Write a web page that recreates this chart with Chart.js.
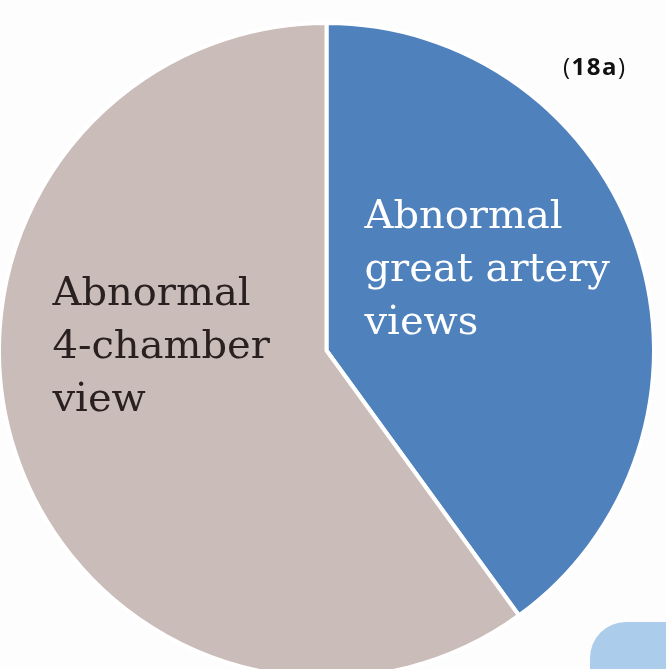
<!DOCTYPE html>
<html>
<head>
<meta charset="utf-8">
<script src="https://cdn.jsdelivr.net/npm/chart.js@4"></script>
<style>
    html, body { margin: 0; padding: 0; background: #fdfdfd; }
    body { width: 666px; height: 669px; overflow: hidden; position: relative; }
    #wrap { position: absolute; left: -3px; top: 21px; width: 659px; height: 659px; }
    #tag {
        position: absolute; left: 563px; top: 49px;
        font-family: "Open Sans", Arial, sans-serif; font-size: 24px; color: #111;
        letter-spacing: 1.5px;
    }
    #tag b { font-weight: bold; }
    #corner {
        position: absolute; left: 590px; top: 622px; width: 120px; height: 100px;
        background: #abcdeb; border-radius: 36px;
    }
</style>
</head>
<body>
<div id="wrap"><canvas id="pieChart"></canvas></div>
<div id="tag">(<b>18a</b>)</div>
<div id="corner"></div>
<script>
// slice data, clockwise from 12 o'clock
const categories = [
    ["Abnormal", "great artery", "views"],
    ["Abnormal", "4-chamber", "view"]
];
const shares = [40, 60];
const sliceColors = ["#4f81bd", "#c9bcb9"];
const textColors = ["#ffffff", "#2a2020"];

function drawLabels(chart) {
    /**
     * writes the multi-line slice labels, placed from the pie centre
     */
    const arc = chart.getDatasetMeta(0).data[0];
    const cx = arc.x, cy = arc.y;
    const spots = [[38, -123], [-274, -46]];
    const ctx = chart.ctx;
    ctx.save();
    ctx.font = "40px 'DejaVu Serif', serif";
    ctx.textAlign = "left";
    ctx.textBaseline = "alphabetic";
    categories.forEach((lines, i) => {
        ctx.fillStyle = textColors[i];
        lines.forEach((line, j) => {
            ctx.fillText(line, cx + spots[i][0], cy + spots[i][1] + j * 53);
        });
    });
    ctx.restore();
}

function main() {
    const ctx = document.getElementById('pieChart').getContext('2d');
    const chart = new Chart(ctx, {
        type: 'pie',
        data: {
            labels: categories.map(c => c.join(" ")),
            datasets: [{
                data: shares,
                backgroundColor: sliceColors,
                borderColor: "#ffffff",
                borderWidth: 4
            }]
        },
        options: {
            responsive: true,
            maintainAspectRatio: false,
            animation: false,
            layout: { padding: 0 },
            plugins: {
                legend: { display: false },
                tooltip: { enabled: false }
            }
        },
        plugins: [{
            id: 'sliceText',
            afterDatasetsDraw: drawLabels
        }]
    });
}

document.addEventListener("DOMContentLoaded", () => {
    main();
})
</script>
</body>
</html>
